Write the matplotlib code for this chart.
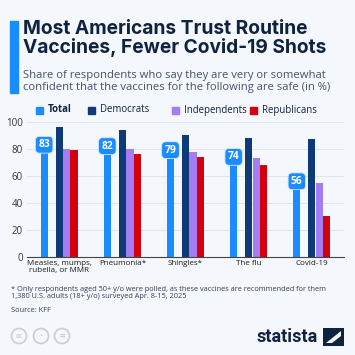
import numpy as np
import matplotlib.pyplot as plt
from matplotlib.patches import Rectangle, Circle, Polygon

# data
categories = ['Measles, mumps,\nrubella, or MMR', 'Pneumonia*', 'Shingles*', 'The flu', 'Covid-19']
series_names = ['Total', 'Democrats', 'Independents', 'Republicans']
total = [83, 82, 79, 74, 56]
democrats = [96, 94, 90, 88, 87]
independents = [80, 80, 78, 73, 55]
republicans = [79, 76, 74, 68, 30]
yticks = [0, 20, 40, 60, 80, 100]

colors = ['#1a8cff', '#0e3a78', '#a47cf4', '#d4000b']
bg = '#f4f7fb'
dark = '#0f2340'

plt.rcParams['font.family'] = ['Open Sans', 'DejaVu Sans']

fig = plt.figure(figsize=(3.55, 3.55), dpi=100, facecolor=bg)
ax = fig.add_axes([0.076, 0.276, 0.893, 0.381], facecolor=bg)

x = np.arange(len(categories))
w = 0.115
offsets = [-0.295, -0.058, 0.063, 0.179]
values = [total, democrats, independents, republicans]
for vals, off, col in zip(values, offsets, colors):
    ax.bar(x + off + w / 2, vals, width=w, color=col, zorder=3)

for xi, v in zip(x, total):
    ax.annotate(str(v), (xi + offsets[0] + w / 2, v), ha='center', va='center',
                fontsize=7.4, fontweight='bold', color='white', zorder=5,
                bbox=dict(boxstyle='round,pad=0.28,rounding_size=0.4', fc=colors[0],
                          ec='#cfe6ff', lw=0.6))

ax.set_xlim(-0.51, 4.51)
ax.set_ylim(0, 100)
ax.set_yticks(yticks)
ax.set_xticks(x)
ax.set_xticklabels(categories, fontsize=5.8, color='#1a1a1a', linespacing=1.1)
ax.tick_params(axis='y', labelsize=7, colors='#333333', length=0, pad=3)
ax.tick_params(axis='x', length=0, pad=2)
ax.grid(axis='y', color='#dde2ea', lw=0.6, zorder=0)
for s in ['top', 'right', 'left']:
    ax.spines[s].set_visible(False)
ax.spines['bottom'].set_color('#444444')
ax.spines['bottom'].set_linewidth(0.8)
ax.spines['bottom'].set_zorder(4)

# title block
fig.patches.append(Rectangle((10 / 355, 1 - 93 / 355), 8 / 355, 72 / 355,
                             transform=fig.transFigure, color='#1a8cff'))
fig.text(23 / 355, 1 - 20 / 355, 'Most Americans Trust Routine\nVaccines, Fewer Covid-19 Shots',
         fontsize=13.8, fontweight='bold', color=dark, va='top', family=['Inter', 'DejaVu Sans'],
         linespacing=1.02)
fig.text(23 / 355, 1 - 70 / 355,
         'Share of respondents who say they are very or somewhat\n'
         'confident that the vaccines for the following are safe (in %)',
         fontsize=8.1, color='#44546a', va='top', linespacing=1.18)

# legend
leg_x = [36, 88, 172, 250]
for lx, name, col in zip(leg_x, series_names, colors):
    fig.patches.append(Rectangle((lx / 355, 1 - 113.5 / 355), 7 / 355, 7 / 355,
                                 transform=fig.transFigure, color=col))
    fig.text((lx + 12) / 355, 1 - 110 / 355, name, fontsize=6.9, va='center',
             color=dark, fontweight='bold' if name == 'Total' else 'normal')

# footer
fig.text(11 / 355, 1 - 286 / 355,
         '* Only respondents aged 50+ y/o were polled, as these vaccines are recommended for them\n'
         '1,380 U.S. adults (18+ y/o) surveyed Apr. 8-15, 2025',
         fontsize=5.3, color='#333f55', va='top', linespacing=1.1)
fig.text(11 / 355, 1 - 307 / 355, 'Source: KFF', fontsize=5.3, color='#333f55', va='top')

# cc icons
for cx in [19, 41, 62]:
    fig.patches.append(Circle((cx / 355, 1 - 336 / 355), 7.5 / 355, transform=fig.transFigure,
                              fc='none', ec='#c9ced6', lw=1.2))
fig.text(19 / 355, 1 - 336 / 355, 'cc', fontsize=5, fontweight='bold', color='#c9ced6',
         ha='center', va='center')
fig.text(62 / 355, 1 - 336 / 355, '=', fontsize=7, fontweight='bold', color='#c9ced6',
         ha='center', va='center')
fig.text(41 / 355, 1 - 336 / 355, '\u2022', fontsize=6, color='#c9ced6', ha='center', va='center')

# statista logo
fig.text(318 / 355, 1 - 337 / 355, 'statista', fontsize=13, fontweight='bold', color=dark,
         ha='right', va='center', family=['Roboto', 'DejaVu Sans'])
fig.patches.append(Polygon([(323 / 355, 1 - 346 / 355), (344 / 355, 1 - 346 / 355),
                            (344 / 355, 1 - 328 / 355), (323 / 355, 1 - 328 / 355)],
                           closed=True, transform=fig.transFigure, fc=dark))
fig.patches.append(Polygon([(326 / 355, 1 - 343 / 355), (341 / 355, 1 - 331 / 355),
                            (341 / 355, 1 - 336 / 355), (332 / 355, 1 - 343 / 355)],
                           closed=True, transform=fig.transFigure, fc=bg))

fig.savefig('out.png', dpi=100, facecolor=bg)
